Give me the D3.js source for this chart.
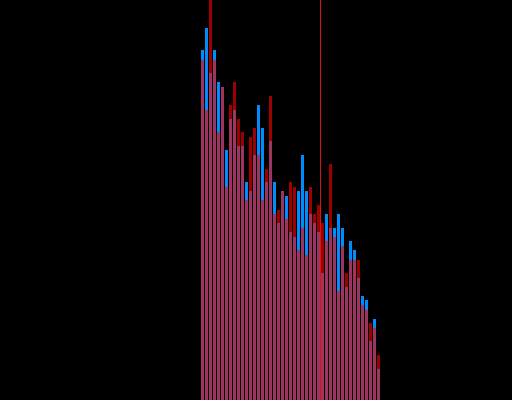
<!DOCTYPE html>
<html>
<head>
<meta charset="utf-8">
<script src="https://cdn.jsdelivr.net/npm/d3@7"></script>
<style>
  html, body { margin: 0; padding: 0; background: #000; }
  svg { display: block; }
</style>
</head>
<body>
<svg id="chart" width="512" height="400"></svg>
<script>
// Bin index (one bin per bar) and the two overlapping series of counts
const bins = d3.range(45);
const blueCounts = [350, 372, 327, 350, 318, 313, 250, 281, 290, 254,
                    254, 218, 209, 245, 295, 272, 218, 259, 218, 177,
                    209, 204, 168, 163, 209, 245, 209, 186, 177, 168,
                    127, 186, 172, 172, 186, 172, 113, 159, 150, 122,
                    104, 100, 59, 81, 31];
const redCounts = [340, 290, 400, 340, 268, 313, 213, 295, 318, 281,
                   268, 200, 263, 272, 245, 200, 231, 304, 186, 190,
                   209, 181, 218, 213, 150, 172, 145, 213, 186, 195,
                   177, 159, 236, 163, 109, 154, 127, 140, 140, 140,
                   95, 90, 77, 72, 45];
const markerBin = [30];

const width = 512, height = 400;
const svg = d3.select("#chart");

svg.append("rect").attr("width", width).attr("height", height).attr("fill", "#000");

const x = d3.scaleLinear().domain([0, 45]).range([200.5, 380.5]);
const y = d3.scaleLinear().domain([0, 400]).range([height, 0]);

function drawSeries(values, fill, opacity) {
  svg.append("g")
    .selectAll("rect")
    .data(bins)
    .join("rect")
    .attr("x", i => x(i) + 0.5)
    .attr("width", i => x(i + 1) - x(i) - 1)
    .attr("y", i => y(values[i]))
    .attr("height", i => y(0) - y(values[i]))
    .attr("fill", fill)
    .attr("fill-opacity", opacity)
    .attr("shape-rendering", "crispEdges");
}

drawSeries(blueCounts, "#008cff", 1);
drawSeries(redCounts, "#ff0000", 0.62);

svg.append("g")
  .selectAll("line")
  .data(markerBin)
  .join("line")
  .attr("x1", d => x(d)).attr("x2", d => x(d))
  .attr("y1", 0).attr("y2", height)
  .attr("stroke", "#dd1111")
  .attr("stroke-width", 1);
</script>
</body>
</html>
